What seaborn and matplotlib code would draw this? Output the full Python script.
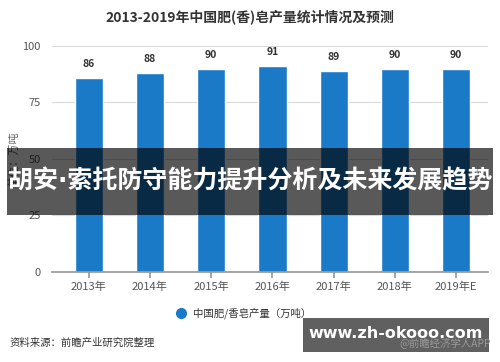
import matplotlib
matplotlib.use("Agg")
import matplotlib.pyplot as plt
import seaborn as sns
import pandas as pd
from matplotlib.patches import Rectangle

anos = ["2013年", "2014年", "2015年", "2016年", "2017年", "2018年", "2019年E"]
producao = [86, 88, 90, 91, 89, 90, 90]
ticks_y = [0, 25, 50, 75, 100]

titulo = "2013-2019年中国肥(香)皂产量统计情况及预测"
legenda = "中国肥/香皂产量（万吨）"
unidade = "单位：万吨"
fonte = "资料来源：前瞻产业研究院整理"
faixa = "胡安·索托防守能力提升分析及未来发展趋势"
marca = "www.zh-okooo.com"
marca_app = "@前瞻经济学人APP"

cor_barra = "#1a7ac7"

sns.set_theme(style="white")
plt.rcParams["font.family"] = ["Noto Sans CJK SC", "DejaVu Sans"]

df = pd.DataFrame({"ano": anos, "producao": producao})

fig = plt.figure(figsize=(5, 3.62), dpi=100)
ax = fig.add_axes([0.104, 0.2486, 0.872, 0.6244])

sns.barplot(data=df, x="ano", y="producao", color=cor_barra, width=0.46,
            saturation=1, ax=ax)

ax.set_ylim(0, 100)
ax.set_xlim(-0.6, 6.52)
ax.set_yticks(ticks_y)
ax.yaxis.grid(True, color="#d9d9d9", linewidth=0.8)
ax.set_axisbelow(True)
for lado in ["top", "right", "left"]:
    ax.spines[lado].set_visible(False)
ax.spines["bottom"].set_color("#999999")
ax.tick_params(axis="y", length=0, labelsize=8, labelcolor="#555555", pad=8)
ax.tick_params(axis="x", length=4, color="#999999", direction="out",
               labelsize=8, labelcolor="#555555", pad=3, bottom=True)
ax.set_xlabel("")
ax.set_ylabel(unidade, fontsize=8, color="#666666", labelpad=2)

for p, v in zip(ax.patches, producao):
    ax.text(p.get_x() + p.get_width() / 2, v + 4, f"{v}", ha="center",
            va="bottom", fontsize=7.5, fontweight="bold", color="#333333")

fig.text(0.5, 0.953, titulo, ha="center", va="center", fontsize=10,
         fontweight="bold", color="#333333")

# legenda
fig.lines.append(plt.Line2D([0.362], [1 - 313 / 362], marker="o", markersize=7,
                            color=cor_barra, transform=fig.transFigure,
                            linestyle="none"))
fig.text(0.385, 1 - 313 / 362, legenda, ha="left", va="center", fontsize=7.5,
         color="#333333")

fig.text(0.02, 1 - 343 / 362, fonte, ha="left", va="center", fontsize=7.5,
         color="#333333")

# faixa escura sobreposta
fig.patches.append(Rectangle((7 / 500, 1 - 215 / 362), 486 / 500, 67 / 362,
                             transform=fig.transFigure, facecolor="black",
                             alpha=0.65, edgecolor="none", zorder=5))
fig.text(0.5, 1 - 181 / 362, faixa, ha="center", va="center", fontsize=18,
         fontweight="bold", color="white", zorder=6,
         family=["DejaVu Sans", "Noto Sans CJK SC"])

# marca d'agua
fig.text(0.982, 1 - 343 / 362, marca_app, ha="right", va="center", fontsize=7.5,
         color="#999999", zorder=7)
fig.patches.append(Rectangle((303 / 500, 1 - 352 / 362), 186 / 500, 34 / 362,
                             transform=fig.transFigure, facecolor="#444444",
                             alpha=0.85, edgecolor="none", zorder=5))
fig.text(396 / 500, 1 - 333 / 362, marca, ha="center", va="center",
         fontsize=11.5, fontweight="bold", color="white", zorder=6,
         family=["DejaVu Sans"])

fig.savefig("out.png", dpi=100)
